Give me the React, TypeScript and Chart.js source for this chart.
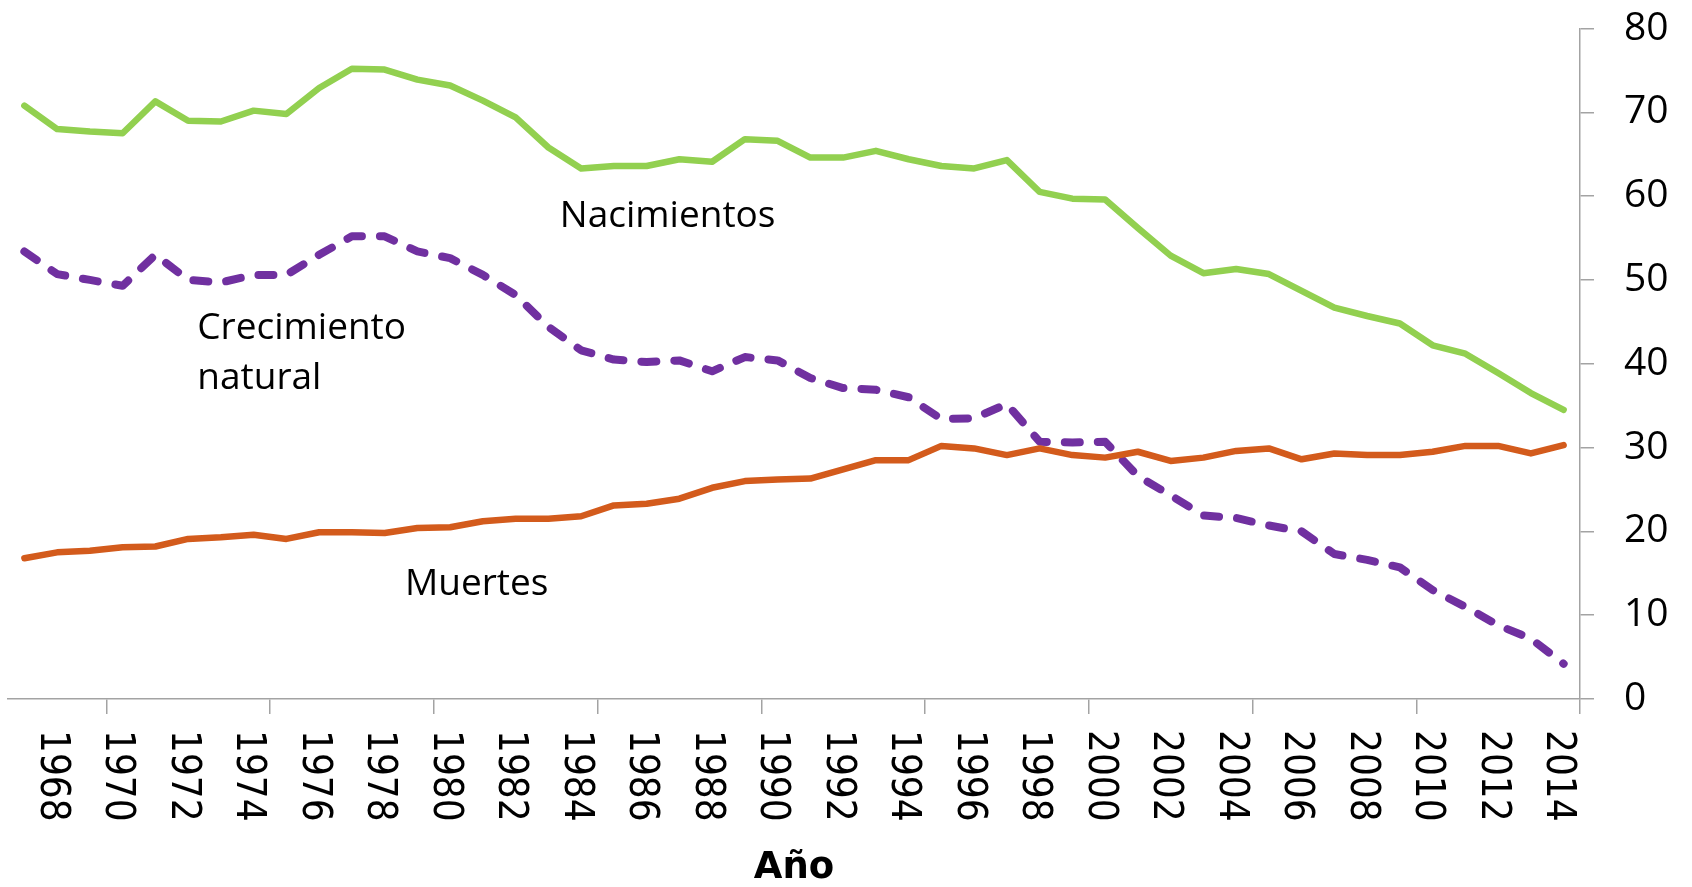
import React, { useEffect, useRef } from 'react';
import { Chart, registerables } from 'chart.js';

Chart.register(...registerables);

// ---- data ----
const years = [
  1967, 1968, 1969, 1970, 1971, 1972, 1973, 1974, 1975, 1976,
  1977, 1978, 1979, 1980, 1981, 1982, 1983, 1984, 1985, 1986,
  1987, 1988, 1989, 1990, 1991, 1992, 1993, 1994, 1995, 1996,
  1997, 1998, 1999, 2000, 2001, 2002, 2003, 2004, 2005, 2006,
  2007, 2008, 2009, 2010, 2011, 2012, 2013, 2014,
];

const nacimientos = [
  70.8, 68.0, 67.7, 67.5, 71.3, 69.0, 68.9, 70.2, 69.8, 72.9,
  75.2, 75.1, 73.9, 73.2, 71.4, 69.4, 65.8, 63.3, 63.6, 63.6,
  64.4, 64.1, 66.8, 66.6, 64.6, 64.6, 65.4, 64.4, 63.6, 63.3,
  64.3, 60.5, 59.7, 59.6, 56.2, 52.9, 50.8, 51.3, 50.7, 48.7,
  46.7, 45.7, 44.8, 42.2, 41.2, 38.9, 36.5, 34.5,
];

const muertes = [
  16.8, 17.5, 17.7, 18.1, 18.2, 19.1, 19.3, 19.6, 19.1, 19.9,
  19.9, 19.8, 20.4, 20.5, 21.2, 21.5, 21.5, 21.8, 23.1, 23.3,
  23.9, 25.2, 26.0, 26.2, 26.3, 27.4, 28.5, 28.5, 30.2, 29.9,
  29.1, 29.9, 29.1, 28.8, 29.5, 28.4, 28.8, 29.6, 29.9, 28.6,
  29.3, 29.1, 29.1, 29.5, 30.2, 30.2, 29.3, 30.3,
];

const crecimiento = [
  53.4, 50.7, 50.0, 49.3, 53.0, 50.0, 49.7, 50.6, 50.6, 53.0,
  55.2, 55.2, 53.4, 52.6, 50.6, 48.2, 44.4, 41.6, 40.5, 40.2,
  40.4, 39.1, 40.8, 40.4, 38.3, 37.1, 36.9, 36.0, 33.4, 33.5,
  35.2, 30.7, 30.6, 30.7, 26.6, 24.3, 21.9, 21.6, 20.7, 20.0,
  17.3, 16.6, 15.7, 13.0, 11.0, 8.8, 7.2, 4.2,
];

const yearLabels = [
  '1968', '1970', '1972', '1974', '1976', '1978', '1980', '1982',
  '1984', '1986', '1988', '1990', '1992', '1994', '1996', '1998',
  '2000', '2002', '2004', '2006', '2008', '2010', '2012', '2014',
];

const tickMarkYears = [
  1969.5, 1974.5, 1979.5, 1984.5, 1989.5, 1994.5, 1999.5, 2004.5, 2009.5, 2014.5,
];

const annotations = [
  { text: 'Nacimientos', x: 1983.35, y: 56.35 },
  { text: 'Crecimiento', x: 1972.28, y: 42.92 },
  { text: 'natural', x: 1972.28, y: 36.95 },
  { text: 'Muertes', x: 1978.62, y: 12.41 },
];

const AXIS_GRAY = '#a3a3a3';

const overlayPlugin = {
  id: 'overlayText',
  afterDraw(chart: any) {
    const { ctx, scales } = chart;
    const xs = scales.x;
    const ys = scales.y;
    // rotated year labels (clockwise)
    ctx.save();
    ctx.fillStyle = '#000';
    ctx.font = '40px "DejaVu Sans Condensed", "DejaVu Sans", sans-serif';
    ctx.textAlign = 'left';
    ctx.textBaseline = 'middle';
    yearLabels.forEach((lab) => {
      const px = xs.getPixelForValue(Number(lab)) - 6;
      const py = xs.top + 31;
      ctx.save();
      ctx.translate(px, py);
      ctx.rotate(Math.PI / 2);
      ctx.fillText(lab, 0, 0);
      ctx.restore();
    });
    ctx.restore();

    // series annotations
    ctx.save();
    ctx.fillStyle = '#000';
    ctx.font = '37px "Open Sans", sans-serif';
    ctx.textAlign = 'left';
    ctx.textBaseline = 'alphabetic';
    annotations.forEach((a) => {
      ctx.fillText(a.text, xs.getPixelForValue(a.x), ys.getPixelForValue(a.y));
    });
    ctx.restore();
  },
};

export default function App() {
  const ref = useRef<HTMLCanvasElement | null>(null);

  useEffect(() => {
    document.body.style.margin = '0';
    const canvas = ref.current;
    if (!canvas) return;
    const toPts = (arr: number[]) => years.map((yr, i) => ({ x: yr, y: arr[i] }));
    const chart = new Chart(canvas, {
      type: 'line',
      data: {
        datasets: [
          {
            label: 'Nacimientos',
            data: toPts(nacimientos),
            borderColor: '#92D050',
            borderWidth: 6.5,
            pointRadius: 0,
            tension: 0,
            borderCapStyle: 'round',
            borderJoinStyle: 'round',
          },
          {
            label: 'Muertes',
            data: toPts(muertes),
            borderColor: '#D35B1C',
            borderWidth: 6.5,
            pointRadius: 0,
            tension: 0,
            borderCapStyle: 'round',
            borderJoinStyle: 'round',
          },
          {
            label: 'Crecimiento natural',
            data: toPts(crecimiento),
            borderColor: '#7030A0',
            borderWidth: 8,
            borderDash: [15, 18],
            pointRadius: 0,
            tension: 0,
            borderCapStyle: 'round',
            borderJoinStyle: 'round',
          },
        ],
      },
      options: {
        animation: false,
        responsive: false,
        devicePixelRatio: 1,
        layout: { padding: { left: 8, top: 28.5, right: 0, bottom: 0 } },
        plugins: {
          legend: { display: false },
          tooltip: { enabled: false },
        },
        scales: {
          x: {
            type: 'linear',
            position: 'bottom',
            min: 1966.5,
            max: 2014.5,
            bounds: 'data',
            afterBuildTicks: (s: any) => {
              s.ticks = tickMarkYears.map((v) => ({ value: v }));
            },
            afterFit: (s: any) => {
              s.height = 188;
              s.paddingLeft = 0;
              s.paddingRight = 0;
            },
            ticks: { display: false },
            grid: {
              drawOnChartArea: false,
              drawTicks: true,
              tickLength: 15,
              color: AXIS_GRAY,
              lineWidth: 1.5,
            },
            border: { color: AXIS_GRAY, width: 1.5 },
            title: {
              display: true,
              text: 'Año',
              color: '#000',
              padding: 0,
              font: { family: '"DejaVu Sans", sans-serif', size: 37, weight: 'bold', lineHeight: 1 },
            },
          },
          y: {
            type: 'linear',
            position: 'right',
            min: 0,
            max: 80,
            afterFit: (s: any) => {
              s.width = 112;
              s.paddingTop = 0;
              s.paddingBottom = 0;
            },
            ticks: {
              stepSize: 10,
              color: '#000',
              padding: 30,
              font: { family: '"Open Sans", sans-serif', size: 39 },
            },
            grid: {
              drawOnChartArea: false,
              drawTicks: true,
              tickLength: 14,
              color: AXIS_GRAY,
              lineWidth: 1.5,
            },
            border: { color: AXIS_GRAY, width: 1.5 },
          },
        },
      } as any,
      plugins: [overlayPlugin],
    });
    return () => chart.destroy();
  }, []);

  return (
    <canvas
      ref={ref}
      width={1692}
      height={887}
      style={{ display: 'block', width: '1692px', height: '887px' }}
    />
  );
}
